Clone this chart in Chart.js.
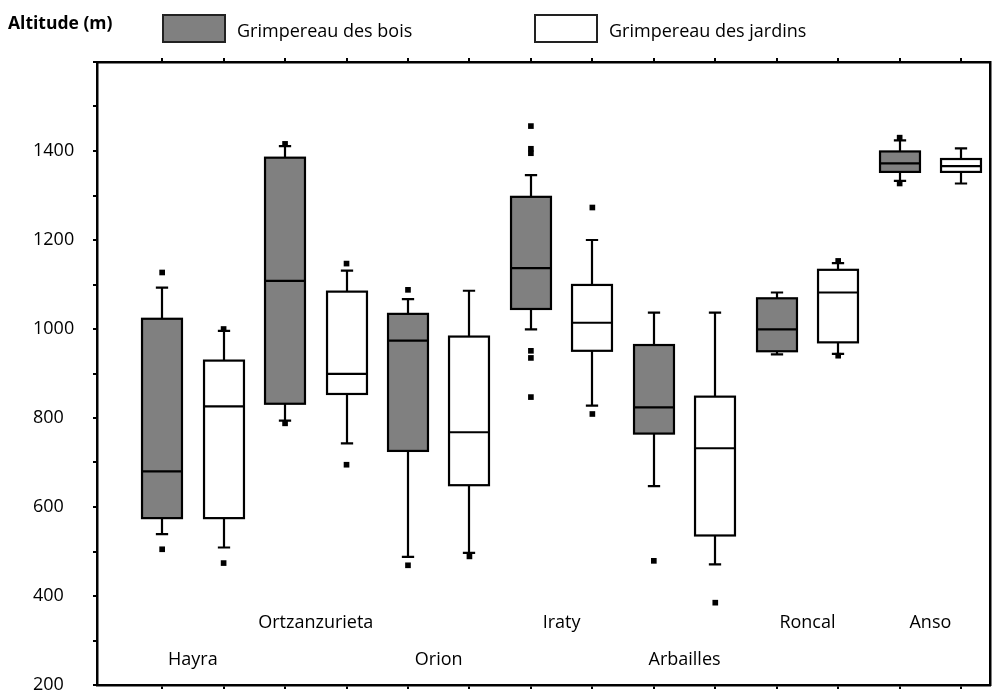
<!DOCTYPE html>
<html><head><meta charset="utf-8">
<script src="https://cdn.jsdelivr.net/npm/chart.js@4/dist/chart.umd.min.js"></script>
<style>html,body{margin:0;padding:0;background:#fff}#wrap{width:994px;height:690px;position:relative}</style>
</head><body><div id="wrap"><canvas id="c" width="994" height="690"></canvas></div>
<script>
// ---- data ----
const sites = ['Hayra','Ortzanzurieta','Orion','Iraty','Arbailles','Roncal','Anso'];
const seriesNames = ['Grimpereau des bois','Grimpereau des jardins'];
const axisTitle = 'Altitude (m)';
const yTickLabels = [200,400,600,800,1000,1200,1400];

// Grimpereau des bois
const boisLow      = [539, 794, 488, 999, 647, 943, 1333];
const boisQ1       = [575, 832, 726, 1045, 765, 950, 1353];
const boisMedian   = [680, 1108, 974, 1137, 824, 999, 1372];
const boisQ3       = [1023, 1385, 1034, 1297, 964, 1069, 1399];
const boisHigh     = [1093, 1411, 1067, 1346, 1037, 1082, 1424];
const boisOutliers = [[1127, 505], [1416, 788], [1088, 469], [1456, 1405, 1395, 951, 935, 847], [479], [], [1430, 1327]];

// Grimpereau des jardins
const jardinsLow      = [509, 743, 497, 828, 471, 944, 1327];
const jardinsQ1       = [575, 854, 649, 951, 536, 970, 1353];
const jardinsMedian   = [826, 899, 768, 1014, 732, 1082, 1366];
const jardinsQ3       = [929, 1084, 983, 1099, 848, 1133, 1382];
const jardinsHigh     = [996, 1131, 1086, 1200, 1037, 1148, 1406];
const jardinsOutliers = [[1000, 474], [1147, 695], [489], [1273, 809], [385], [1153, 940], []];

// ---- styles ----
const FONT = '"Open Sans", "DejaVu Sans", sans-serif';
const GREY = '#808080';
const BOX_W = 0.65;   // box width in x units
const CAP_W = 0.2;    // whisker cap width in x units
const labelRow = [1, 0, 1, 0, 1, 0, 0]; // 0 = upper row, 1 = lower row

const series = [
  {low: boisLow, q1: boisQ1, med: boisMedian, q3: boisQ3, high: boisHigh, out: boisOutliers, fill: GREY},
  {low: jardinsLow, q1: jardinsQ1, med: jardinsMedian, q3: jardinsQ3, high: jardinsHigh, out: jardinsOutliers, fill: '#ffffff'}
];
const xOf = (siteIdx, k) => 2 * siteIdx + 1 + k;

const outlierData = series.map((s, k) => {
  const pts = [];
  s.out.forEach((arr, i) => arr.forEach(v => pts.push({x: xOf(i, k), y: v})));
  return pts;
});

const boxPlugin = {
  id: 'boxes',
  beforeDatasetsDraw(chart) {
    const {ctx, scales: {x, y}} = chart;
    ctx.save();
    ctx.strokeStyle = '#000';
    ctx.lineWidth = 2.2;
    series.forEach((s, k) => {
      sites.forEach((name, i) => {
        const xv = xOf(i, k);
        const cx = Math.round(x.getPixelForValue(xv));
        const hw = (x.getPixelForValue(xv + BOX_W / 2) - x.getPixelForValue(xv - BOX_W / 2)) / 2;
        const cw = (x.getPixelForValue(xv + CAP_W / 2) - x.getPixelForValue(xv - CAP_W / 2)) / 2;
        const pLow = y.getPixelForValue(s.low[i]);
        const pQ1 = y.getPixelForValue(s.q1[i]);
        const pMed = y.getPixelForValue(s.med[i]);
        const pQ3 = y.getPixelForValue(s.q3[i]);
        const pHigh = y.getPixelForValue(s.high[i]);
        ctx.beginPath();
        ctx.moveTo(cx, pQ1); ctx.lineTo(cx, pLow);
        ctx.moveTo(cx - cw, pLow); ctx.lineTo(cx + cw, pLow);
        ctx.moveTo(cx, pQ3); ctx.lineTo(cx, pHigh);
        ctx.moveTo(cx - cw, pHigh); ctx.lineTo(cx + cw, pHigh);
        ctx.stroke();
        ctx.fillStyle = s.fill;
        ctx.fillRect(cx - hw, pQ3, 2 * hw, pQ1 - pQ3);
        ctx.strokeRect(cx - hw, pQ3, 2 * hw, pQ1 - pQ3);
        ctx.beginPath();
        ctx.moveTo(cx - hw, pMed); ctx.lineTo(cx + hw, pMed);
        ctx.stroke();
      });
    });
    ctx.restore();
  },
  afterDraw(chart) {
    const {ctx, chartArea, scales: {x}} = chart;
    ctx.save();
    ctx.fillStyle = '#000';
    ctx.textBaseline = 'alphabetic';
    // site labels
    ctx.font = '18px ' + FONT;
    ctx.textAlign = 'center';
    sites.forEach((name, i) => {
      const cx = (x.getPixelForValue(xOf(i, 0)) + x.getPixelForValue(xOf(i, 1))) / 2;
      const base = labelRow[i] === 0 ? chartArea.bottom - 57 : chartArea.bottom - 20;
      ctx.fillText(name, cx, base);
    });
    // axis title
    ctx.textAlign = 'left';
    ctx.font = 'bold 17.5px ' + FONT;
    ctx.fillText(axisTitle, 8, 29);
    // legend
    const legendX = [163, 535];
    const textX = [237, 609];
    ctx.font = '18px ' + FONT;
    series.forEach((s, k) => {
      ctx.fillStyle = s.fill;
      ctx.fillRect(legendX[k], 15, 62, 27);
      ctx.strokeStyle = '#222';
      ctx.lineWidth = 2;
      ctx.strokeRect(legendX[k], 15, 62, 27);
      ctx.fillStyle = '#000';
      ctx.fillText(seriesNames[k], textX[k], 37);
    });
    ctx.restore();
  }
};

const X_MIN = -0.06, X_MAX = 14.47, Y_MIN = 200, Y_MAX = 1600;
const xTickValues = [];
for (let i = 0; i < sites.length; i++) { xTickValues.push(xOf(i, 0), xOf(i, 1)); }

const tickAxis = (position) => ({
  type: 'linear', position, min: X_MIN, max: X_MAX,
  afterBuildTicks: (s) => { s.ticks = xTickValues.map(v => ({value: v})); },
  afterFit: (s) => { s.height = 5; },
  ticks: {display: false},
  grid: {drawOnChartArea: false, drawTicks: true, tickLength: 4, color: '#000', lineWidth: 2},
  border: {display: true, color: '#000', width: 2.5}
});

async function main() {
  try { await document.fonts.load('18px "Open Sans"'); await document.fonts.load('bold 17px "Open Sans"'); } catch (e) {}
  new Chart(document.getElementById('c'), {
    type: 'scatter',
    data: {
      datasets: outlierData.map((d, k) => ({
        label: seriesNames[k] + ' (valeurs extrêmes)',
        data: d,
        xAxisID: 'x', yAxisID: 'y',
        pointStyle: 'rect', pointRadius: 4, pointHoverRadius: 4,
        backgroundColor: '#000', borderColor: '#000', borderWidth: 0
      }))
    },
    options: {
      responsive: false, animation: false, devicePixelRatio: 1,
      layout: {padding: {left: 33, top: 57, right: 2, bottom: 0}},
      plugins: {legend: {display: false}, tooltip: {enabled: false}},
      scales: {
        x: tickAxis('bottom'),
        x2: Object.assign(tickAxis('top'), {axis: 'x'}),
        y: {
          type: 'linear', position: 'left', min: Y_MIN, max: Y_MAX,
          afterBuildTicks: (s) => { const t = []; for (let v = Y_MIN; v <= Y_MAX; v += 100) t.push({value: v}); s.ticks = t; },
          afterFit: (s) => { s.width = 64; },
          ticks: {
            callback: (v) => yTickLabels.includes(v) ? String(v) : '',
            crossAlign: 'far', color: '#000', font: {family: FONT, size: 18, lineHeight: 0.4}, padding: 0, autoSkip: false
          },
          grid: {drawOnChartArea: false, drawTicks: true, tickLength: 4, color: '#000', lineWidth: 2},
          border: {display: true, color: '#000', width: 2.5}
        },
        y2: {
          type: 'linear', axis: 'y', position: 'right', min: Y_MIN, max: Y_MAX,
          afterFit: (s) => { s.width = 0; },
          ticks: {display: false},
          grid: {display: false},
          border: {display: true, color: '#000', width: 2.5}
        }
      }
    },
    plugins: [boxPlugin]
  });
}
main();
</script>
</body></html>
